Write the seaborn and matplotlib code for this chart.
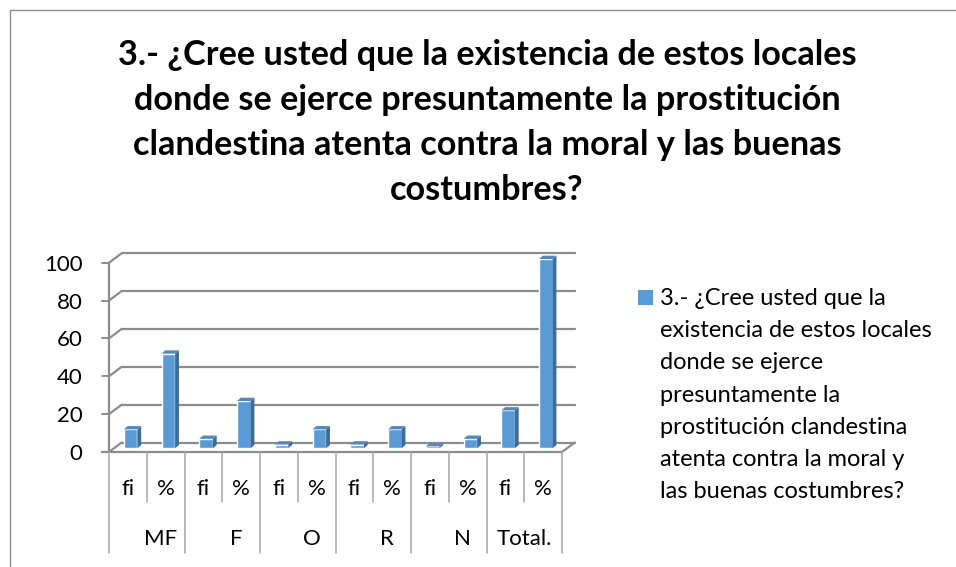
import matplotlib
matplotlib.use("Agg")
import matplotlib.pyplot as plt
from matplotlib.patches import Polygon, Rectangle
from matplotlib.lines import Line2D
import matplotlib.transforms as mtransforms
import seaborn as sns
import pandas as pd

# ---------------- data ----------------
groups = ["MF", "F", "O", "R", "N", "Total."]
measures = ["fi", "%"]
fi_values = [10, 5, 2, 2, 1, 20]
pct_values = [50, 25, 10, 10, 5, 100]
y_ticks = [0, 20, 40, 60, 80, 100]
title_lines = [
    "3.- ¿Cree usted que la existencia de estos locales",
    "donde se ejerce presuntamente la prostitución",
    "clandestina atenta contra la moral y las buenas",
    "costumbres?",
]
legend_lines = [
    "3.- ¿Cree usted que la",
    "existencia de estos locales",
    "donde se ejerce",
    "presuntamente la",
    "prostitución clandestina",
    "atenta contra la moral y",
    "las buenas costumbres?",
]

rows = []
for g, fi, pc in zip(groups, fi_values, pct_values):
    rows.append({"key": f"{g} fi", "group": g, "measure": "fi", "value": fi})
    rows.append({"key": f"{g} %", "group": g, "measure": "%", "value": pc})
df = pd.DataFrame(rows)

# ---------------- style ----------------
sns.set_theme(style="white")
plt.rcParams["font.family"] = ["Lato", "DejaVu Sans"]

W, H = 956, 567
fig = plt.figure(figsize=(W / 100, H / 100), dpi=100)

def fx(px):
    return px / W

def fy(py):
    return 1 - py / H

# front plane of the plot: x 109..562, y(0)=452, y(100)=262.7
x0p, x1p, y0p, y1p = 109, 562, 452, 262.7
ax = fig.add_axes([fx(x0p), fy(y0p), (x1p - x0p) / W, (y0p - y1p) / H])

BLUE = "#5B9BD5"
SIDE = "#3B6C9A"
TOP = "#5089C2"
GRID = "#8C8C8C"
SEP = "#A6A6A6"

sns.barplot(data=df, x="key", y="value", color=BLUE, saturation=1,
            width=0.36, ax=ax, zorder=3)

n = len(df)
ax.set_xlim(-0.5, n - 0.5)
ax.set_ylim(0, 100)
ux = (x1p - x0p) / n          # px per category unit
uy = (y0p - y1p) / 100.0      # px per value unit

def off(x, y, dxp, dyp):
    return (x + dxp / ux, y + dyp / uy)

# back wall gridlines and left wall
BDX, BDY = 12.7, 9.5
for v in y_ticks:
    ax.add_line(Line2D(*zip(off(-0.5, v, BDX, BDY), off(n - 0.5, v, BDX, BDY)),
                       color=GRID, lw=1.6, clip_on=False, zorder=1))
    ax.add_line(Line2D(*zip((-0.5, v), off(-0.5, v, BDX, BDY)),
                       color=GRID, lw=1.6, clip_on=False, zorder=1))
    ax.add_line(Line2D(*zip(off(-0.5, v, -7.5, 0), (-0.5, v)),
                       color=GRID, lw=1.4, clip_on=False, zorder=1))
# front vertical axis, floor front edge, floor right edge
ax.add_line(Line2D([-0.5, -0.5], [0, 100], color=GRID, lw=1.6, clip_on=False, zorder=2))
ax.add_line(Line2D(*zip(off(-0.5, 0, -7.5, 0), (n - 0.5, 0)),
                   color=GRID, lw=1.6, clip_on=False, zorder=2))
ax.add_line(Line2D(*zip((n - 0.5, 0), off(n - 0.5, 0, BDX, BDY)),
                   color=GRID, lw=1.6, clip_on=False, zorder=2))

# 3D bars: shift front faces into the mid-depth plane and add side/top faces
bar_shift = mtransforms.ScaledTranslation(2.7 / 100, 3.7 / 100, fig.dpi_scale_trans)
ddx, ddy = 3.8 / ux, 3.3 / uy
for p in list(ax.patches):
    p.set_transform(ax.transData + bar_shift)
    p.set_clip_on(False)
    x, w, h = p.get_x(), p.get_width(), p.get_height()
    side = Polygon([(x + w, 0), (x + w, h), (x + w + ddx, h + ddy), (x + w + ddx, ddy)],
                   closed=True, facecolor=SIDE, edgecolor="none",
                   transform=ax.transData + bar_shift, clip_on=False, zorder=3)
    top = Polygon([(x, h), (x + w, h), (x + w + ddx, h + ddy), (x + ddx, h + ddy)],
                  closed=True, facecolor=TOP, edgecolor="none",
                  transform=ax.transData + bar_shift, clip_on=False, zorder=3)
    ax.add_patch(side)
    ax.add_patch(top)

# category separators and labels below the axis
for i in range(n + 1):
    depth = 101 if i % 2 == 0 else 50
    ax.add_line(Line2D([i - 0.5, i - 0.5], [0, -depth / uy], color=SEP, lw=1.1,
                       clip_on=False, zorder=2))
for i, m in enumerate(df["measure"]):
    ax.text(i, -(495 - y0p) / uy, m, ha="center", va="baseline",
            fontsize=16, color="#000000")
for gi, g in enumerate(groups):
    cx = 2 * gi + 0.5
    if gi < len(groups) - 1:
        cx += 14 / ux
    ax.text(cx, -(545 - y0p) / uy, g, ha="center", va="baseline",
            fontsize=16, color="#000000")

ax.set_xticks([])
ax.set_yticks(y_ticks)
ax.set_yticklabels([str(v) for v in y_ticks])
ax.tick_params(axis="y", length=0, pad=19, labelsize=16, labelcolor="#000000")
ax.set_xlabel("")
ax.set_ylabel("")
for s in ax.spines.values():
    s.set_visible(False)
ax.patch.set_alpha(0)

# title
for i, line in enumerate(title_lines):
    fig.text(fx(487), fy(65 + 45 * i), line, ha="center", va="baseline",
             fontsize=24.7, fontweight="bold", color="#000000")

# legend
fig.patches.append(Rectangle((fx(638.3), fy(305)), 15 / W, 15 / H,
                             transform=fig.transFigure, facecolor=BLUE,
                             edgecolor="none"))
for i, line in enumerate(legend_lines):
    fig.text(fx(660), fy(305 + 32.2 * i), line, ha="left", va="baseline",
             fontsize=17, color="#000000")

# chart area border (cropped at right and bottom)
fig.add_artist(Line2D([fx(9.5), fx(9.5), fx(960)], [fy(570), fy(9.5), fy(9.5)],
                      transform=fig.transFigure, color="#8E8E8E", lw=1.0))

fig.savefig("out.png", dpi=100)
